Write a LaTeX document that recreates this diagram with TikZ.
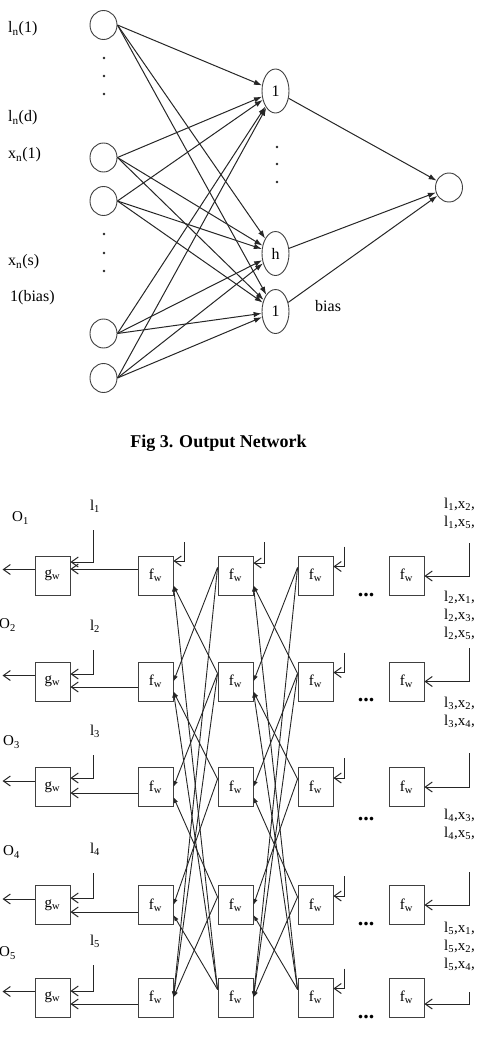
\documentclass[tikz,border=0pt]{standalone}
\usepackage{fontspec}
\setmainfont{Liberation Serif}
\usetikzlibrary{arrows.meta, shapes.geometric, calc}

\begin{document}
\begin{tikzpicture}[
    x=1pt, y=1pt,
    unit/.style={ellipse, draw=black!75, line width=0.9pt, minimum width=27pt,
                 minimum height=29pt, inner sep=0pt},
    hidden/.style={ellipse, draw=black!75, line width=0.9pt, minimum width=27pt,
                   minimum height=44pt, inner sep=0pt, font=\fontsize{16}{18}\selectfont},
    wire/.style={-{Latex[length=8pt,width=5.5pt]}, line width=1pt, black!85},
    lab/.style={font=\fontsize{16}{18}\selectfont, anchor=west, inner sep=0pt},
    fbox/.style={rectangle, draw=black!75, line width=0.9pt, minimum width=35pt,
                 minimum height=39pt, inner sep=0pt, font=\fontsize{15}{17}\selectfont},
    link/.style={-{Latex[length=6pt,width=4.5pt]}, line width=0.9pt, black!85},
    feed/.style={-{Straight Barb[length=7pt,width=10pt]}, line width=1pt, black!85},
    txt/.style={font=\fontsize{15}{18}\selectfont, inner sep=0pt},
]
\useasboundingbox (0,0) rectangle (479,-1044);

% Output network
\node[unit] (in1) at (103.5,-25) {};
\node[unit] (in2) at (103.5,-157.5) {};
\node[unit] (in3) at (103.5,-201) {};
\node[unit] (in4) at (103.5,-333.5) {};
\node[unit] (in5) at (103.5,-378) {};

\node[hidden] (h1) at (275.5,-91) {1};
\node[hidden] (hh) at (275.5,-253.5) {h};
\node[hidden] (hb) at (275.5,-311.5) {1};
\node[unit] (out) at (449,-187.5) {};

\node[lab] (ln1) at (8,-29) {l\textsubscript{n}(1)};
\node[lab] (lnd) at (8,-118) {l\textsubscript{n}(d)};
\node[lab] (xn1) at (8,-155) {x\textsubscript{n}(1)};
\node[lab] (xns) at (8,-262) {x\textsubscript{n}(s)};
\node[lab] (bin) at (10,-298) {1(bias)};
\node[lab] (bhid) at (315,-306) {bias};

\foreach \y in {58,76,94,234,253,271}
    \fill[black!85] (104,-\y) circle (1.4);
\foreach \y in {147,164,182}
    \fill[black!85] (277,-\y) circle (1.4);

\foreach \i in {1,...,5}
    \foreach \h in {h1,hh,hb}
        \draw[wire] (in\i.east) -- (\h);
\foreach \h in {h1,hh,hb}
    \draw[wire] (\h) -- (out);

\node[font=\fontsize{18}{20}\selectfont\bfseries] (cap) at (218.5,-443) {Fig 3. Output Network};

% Unfolded network
\foreach \i/\y/\lt/\la/\fa in {1/575.5/530/562/569, 2/681.5/650/674/687,
        3/787/755/778/793, 4/905/873/898/912, 5/997.5/965/991/1004}{
    \node[fbox] (g\i) at (52.5,-\y) {g\textsubscript{w}};
    \node[fbox] (a\i) at (155.5,-\y) {f\textsubscript{w}};
    \node[fbox] (b\i) at (235.5,-\y) {f\textsubscript{w}};
    \node[fbox] (c\i) at (315.5,-\y) {f\textsubscript{w}};
    \node[fbox] (d\i) at (406.5,-\y) {f\textsubscript{w}};
    \coordinate (lin\i) at (93,-\lt);
    \node[txt] (lt\i) at (95,-\lt+24) {l\textsubscript{\i}};
    \draw[feed] (lin\i) |- (g\i.east |- 0,-\la);
    \draw[feed] (a\i.west |- 0,-\fa) -- (g\i.east |- 0,-\fa);
    \draw[feed] ([yshift=6pt]g\i.west) -- ++(-32,0);
    \coordinate (cin\i) at ($(c\i.east)+(11,29)$);
    \draw[feed] (cin\i) |- ([yshift=9pt]c\i.east);
}

\foreach \i/\x/\y in {1/12/518, 2/-1/625, 3/3/742, 4/3/852, 5/-1/953}
    \node[txt, anchor=west] (o\i) at (\x,-\y) {O\textsubscript{\i}};

% inputs of the last column
\foreach \i/\t/\e in {1/543/576, 2/648/681.5, 3/753/787, 4/872/905, 5/992/1004}{
    \coordinate (din\i) at (469,-\t);
    \draw[feed] (din\i) |- (d\i.east |- 0,-\e);
}
\coordinate (ain1) at (184,-542);
\draw[feed] (ain1) |- (a1.east |- 0,-561);
\coordinate (bin1) at (264,-542);
\draw[feed] (bin1) |- (b1.east |- 0,-563);

\node[txt, align=right, anchor=east] (s1) at (475,-513.5)
    {l\textsubscript{1},x\textsubscript{2},\\l\textsubscript{1},x\textsubscript{5},};
\node[txt, align=right, anchor=east] (s2) at (475,-615)
    {l\textsubscript{2},x\textsubscript{1},\\l\textsubscript{2},x\textsubscript{3},\\l\textsubscript{2},x\textsubscript{5},};
\node[txt, align=right, anchor=east] (s3) at (475,-712.5)
    {l\textsubscript{3},x\textsubscript{2},\\l\textsubscript{3},x\textsubscript{4},};
\node[txt, align=right, anchor=east] (s4) at (475,-824)
    {l\textsubscript{4},x\textsubscript{3},\\l\textsubscript{4},x\textsubscript{5},};
\node[txt, align=right, anchor=east] (s5) at (475,-946)
    {l\textsubscript{5},x\textsubscript{1},\\l\textsubscript{5},x\textsubscript{2},\\l\textsubscript{5},x\textsubscript{4},};

\foreach \y [count=\k] in {594,699,818,923,1016}
    \node[font=\fontsize{22}{24}\selectfont\bfseries, inner sep=0pt, anchor=base]
        (dots\k) at (366,-\y-2) {...};

% neighbour links
\foreach \i/\j in {1/2,1/5,2/3,2/5,3/4,4/5}{
    \draw[link] ([yshift=8pt]b\j.west) -- ([yshift=-10pt]a\i.east);
    \draw[link] ([yshift=8pt]b\i.west) -- (a\j.east);
    \draw[link] ([yshift=8pt]c\j.west) -- ([yshift=-10pt]b\i.east);
    \draw[link] ([yshift=8pt]c\i.west) -- (b\j.east);
}

\end{tikzpicture}
\end{document}
